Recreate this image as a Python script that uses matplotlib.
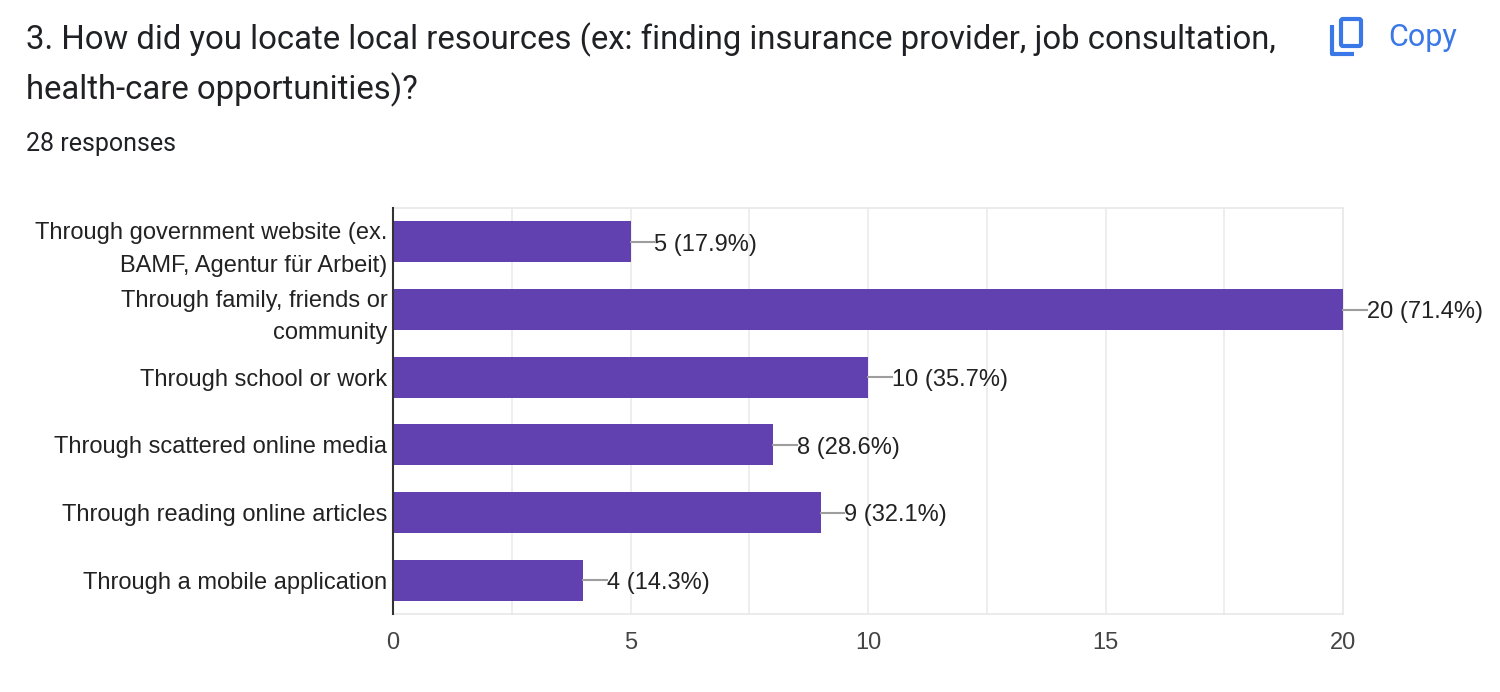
import matplotlib
matplotlib.use("Agg")
import matplotlib.pyplot as plt
from matplotlib.patches import FancyBboxPatch
from matplotlib.lines import Line2D
from matplotlib.transforms import offset_copy

categories = [
    "Through government website (ex.\nBAMF, Agentur für Arbeit)",
    "Through family, friends or\ncommunity",
    "Through school or work",
    "Through scattered online media",
    "Through reading online articles",
    "Through a mobile application",
]
counts = [5, 20, 10, 8, 9, 4]
percents = [17.9, 71.4, 35.7, 28.6, 32.1, 14.3]
xticks = [0, 5, 10, 15, 20]
title_lines = ["3. How did you locate local resources (ex: finding insurance provider, job consultation,",
               "health-care opportunities)?"]
subtitle = "28 responses"

BAR = "#6140B0"
W, H = 1500, 692
fig = plt.figure(figsize=(15, 6.92), dpi=100)
fig.patch.set_facecolor("white")

ax = fig.add_axes([393 / W, 1 - 614 / H, (1343 - 393) / W, (614 - 208) / H])
y = list(range(len(categories)))
ax.barh(y, counts, height=0.61, color=BAR, zorder=3)
ax.set_ylim(len(categories) - 0.5, -0.5)
ax.set_xlim(0, 20)
ax.set_yticks(y)
ax.set_yticklabels(categories, fontsize=17, family="Liberation Sans", color="#222222",
                   linespacing=1.6)
ax.set_xticks(xticks)
ax.set_xticklabels([str(t) for t in xticks], fontsize=17, family="Liberation Sans", color="#444444")
ax.set_xticks([2.5, 7.5, 12.5, 17.5], minor=True)
ax.tick_params(axis="both", which="both", length=0)
ax.tick_params(axis="y", pad=4)
ax.tick_params(axis="x", pad=13)
ax.grid(axis="x", which="both", color="#ebebeb", linewidth=1.2, zorder=0)
for s in ["top", "right", "bottom"]:
    ax.spines[s].set_color("#e8e8e8")
    ax.spines[s].set_linewidth(1.2)
ax.spines["left"].set_color("#333333")
ax.spines["left"].set_linewidth(1.5)
ax.spines["left"].set_zorder(4)

lbl_tr = offset_copy(ax.transData, fig=fig, x=0, y=-2, units="points")
for yi, c, p in zip(y, counts, percents):
    ax.plot([c, c + 0.5], [yi, yi], color="#9e9e9e", lw=1.5, zorder=4, clip_on=False)
    ax.text(c + 0.5, yi, f"{c} ({p}%)", va="center", ha="left", fontsize=17,
            family="Liberation Sans", color="#222222", clip_on=False, transform=lbl_tr)

fig.text(26 / W, 1 - 40 / H, title_lines[0], fontsize=23.7, family="Roboto", color="#202124",
         va="center", ha="left")
fig.text(26 / W, 1 - 90 / H, title_lines[1], fontsize=23.7, family="Roboto", color="#202124",
         va="center", ha="left")
fig.text(26 / W, 1 - 144 / H, subtitle, fontsize=18, family="Roboto", color="#202124",
         va="center", ha="left")

# Copy icon
blue = "#3B78E7"
ax2 = fig.add_axes([0, 0, 1, 1], facecolor="none")
ax2.set_xlim(0, W)
ax2.set_ylim(H, 0)
ax2.axis("off")
ax2.add_patch(FancyBboxPatch((1341, 19), 20, 27, boxstyle="round,pad=0,rounding_size=2",
                             fill=False, edgecolor=blue, linewidth=3))
ax2.add_line(Line2D([1331.5, 1331.5, 1354], [25, 53.5, 53.5], color=blue, linewidth=3,
                    solid_capstyle="butt"))
ax2.text(1388, 37, "Copy", fontsize=22, family="Roboto", color=blue, va="center", ha="left")

fig.savefig("out.png", dpi=100, facecolor="white")
